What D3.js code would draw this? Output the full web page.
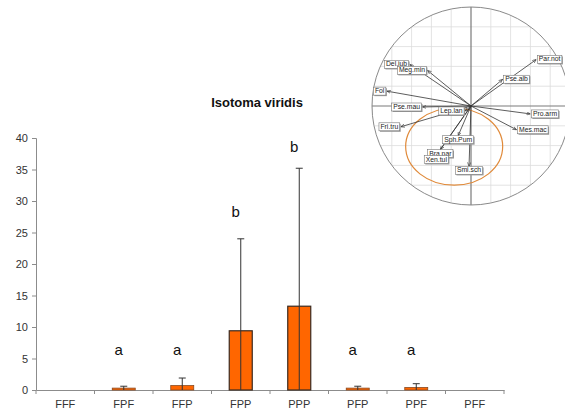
<!DOCTYPE html>
<html>
<head>
<meta charset="utf-8">
<script src="https://cdn.jsdelivr.net/npm/d3@7"></script>
<style>
  body { margin: 0; background: #fff; }
  svg { display: block; font-family: "Liberation Sans", Arial, sans-serif; }
</style>
</head>
<body>
<div id="chart"></div>
<script>
// bar chart data
var categories = ["FFF", "FPF", "FFP", "FPP", "PPP", "PFP", "PPF", "PFF"];
var means = [0, 0.3, 0.7, 9.4, 13.3, 0.3, 0.4, 0];
var errors = [0, 0.3, 1.2, 14.6, 21.9, 0.3, 0.6, 0];
var letters = ["", "a", "a", "b", "b", "a", "a", ""];
var letterLevel = [0, 6.3, 6.3, 28.2, 38.5, 6.3, 6.3, 0];
var yTicks = [0, 5, 10, 15, 20, 25, 30, 35, 40];

// correlation circle data (loadings on axis 1 / axis 2)
var species = ["Del.jub", "Meg.min", "Fol", "Pse.mau", "Lep.lan", "Fri.tru", "Sph.Pum",
               "Bra.par", "Xen.tul", "Smi.sch", "Par.not", "Pse.alb", "Pro.arm", "Mes.mac"];
var axis1 = [-0.62, -0.44, -0.85, -0.49, -0.06, -0.71, -0.13, -0.31, -0.35, -0.02, 0.66, 0.32, 0.60, 0.46];
var axis2 = [0.42, 0.36, 0.15, -0.01, -0.05, -0.21, -0.30, -0.44, -0.50, -0.61, 0.47, 0.27, -0.08, -0.24];
var groupEllipse = { cx: -0.17, cy: -0.41, rx: 0.49, ry: 0.39 };

var width = 565, height = 417;

var svg = d3.select("#chart").append("svg")
    .attr("width", width)
    .attr("height", height);

// ---------- bar chart ----------
var x = d3.scaleBand().domain(categories).range([36, 504]).paddingInner(0).paddingOuter(0);
var y = d3.scaleLinear().domain([0, 40]).range([390, 138]);
var barW = 23;

var xAxis = svg.append("g")
    .attr("transform", "translate(0,390)")
    .call(d3.axisBottom(x).tickSize(0).tickPadding(10));
xAxis.select(".domain").attr("stroke", "#8c8c8c");
xAxis.selectAll("text").attr("font-size", "11px").attr("fill", "#333");

// tick marks between categories
var bounds = categories.map(function(c) { return x(c); }).concat([x.range()[1]]);
svg.append("g").selectAll("line")
    .data(bounds)
    .join("line")
    .attr("x1", function(d) { return d; })
    .attr("x2", function(d) { return d; })
    .attr("y1", 390)
    .attr("y2", 394)
    .attr("stroke", "#8c8c8c");

var yAxis = svg.append("g")
    .attr("transform", "translate(36,0)")
    .call(d3.axisLeft(y).tickValues(yTicks).tickSize(4).tickPadding(4));
yAxis.select(".domain").attr("stroke", "#8c8c8c");
yAxis.selectAll(".tick line").attr("stroke", "#8c8c8c");
yAxis.selectAll("text").attr("font-size", "11px").attr("fill", "#333");

var rows = categories.map(function(c, i) {
    return { cat: c, mean: means[i], err: errors[i], letter: letters[i], level: letterLevel[i] };
});

svg.append("g").selectAll("rect")
    .data(rows.filter(function(d) { return d.mean > 0; }))
    .join("rect")
    .attr("x", function(d) { return x(d.cat) + x.bandwidth() / 2 - barW / 2; })
    .attr("y", function(d) { return y(d.mean); })
    .attr("width", barW)
    .attr("height", function(d) { return y(0) - y(d.mean); })
    .attr("fill", "#ff6600")
    .attr("stroke", function(d) { return d.mean > 2 ? "#3a2a20" : "#8a4a20"; })
    .attr("stroke-width", function(d) { return d.mean > 2 ? 1.2 : 0.8; });

var errG = svg.append("g").attr("stroke", "#333").attr("stroke-width", 1);
rows.filter(function(d) { return d.err > 0; }).forEach(function(d) {
    var cx = x(d.cat) + x.bandwidth() / 2;
    errG.append("line")
        .attr("x1", cx).attr("x2", cx)
        .attr("y1", y(Math.max(0, d.mean - d.err)))
        .attr("y2", y(d.mean + d.err));
    errG.append("line")
        .attr("x1", cx - 3.5).attr("x2", cx + 3.5)
        .attr("y1", y(d.mean + d.err))
        .attr("y2", y(d.mean + d.err));
});

svg.append("g").selectAll("text")
    .data(rows.filter(function(d) { return d.letter; }))
    .join("text")
    .attr("x", function(d) { return x(d.cat) + x.bandwidth() / 2 - 5; })
    .attr("y", function(d) { return y(d.level) + 5; })
    .attr("text-anchor", "middle")
    .attr("font-size", "15px")
    .attr("fill", "#111")
    .text(function(d) { return d.letter; });

svg.append("text")
    .attr("x", 257)
    .attr("y", 107)
    .attr("text-anchor", "middle")
    .attr("font-size", "13px")
    .attr("font-weight", "bold")
    .attr("fill", "#111")
    .text("Isotoma viridis");

// ---------- correlation circle inset ----------
var cc = { x: 471, y: 106, r: 99 };
var px = d3.scaleLinear().domain([-1, 1]).range([cc.x - cc.r, cc.x + cc.r]);
var py = d3.scaleLinear().domain([-1, 1]).range([cc.y + cc.r, cc.y - cc.r]);

var defs = svg.append("defs");
defs.append("clipPath").attr("id", "circClip")
    .append("circle").attr("cx", cc.x).attr("cy", cc.y).attr("r", cc.r);
defs.append("marker")
    .attr("id", "arr")
    .attr("viewBox", "0 0 10 10")
    .attr("refX", 10).attr("refY", 5)
    .attr("markerWidth", 5).attr("markerHeight", 5)
    .attr("orient", "auto")
    .append("path").attr("d", "M0,1L10,5L0,9").attr("fill", "none").attr("stroke", "#333").attr("stroke-width", 1.5);

var inset = svg.append("g");
inset.append("circle").attr("cx", cc.x).attr("cy", cc.y).attr("r", cc.r).attr("fill", "#fff");

var gridVals = d3.range(-1, 1.01, 0.2).filter(function(v) { return Math.abs(v) > 0.01; });
var grid = inset.append("g").attr("clip-path", "url(#circClip)").attr("stroke", "#dcdcdc").attr("stroke-width", 0.8);
grid.selectAll("line.v").data(gridVals).join("line").attr("class", "v")
    .attr("x1", function(d) { return px(d); }).attr("x2", function(d) { return px(d); })
    .attr("y1", cc.y - cc.r).attr("y2", cc.y + cc.r);
grid.selectAll("line.h").data(gridVals).join("line").attr("class", "h")
    .attr("y1", function(d) { return py(d); }).attr("y2", function(d) { return py(d); })
    .attr("x1", cc.x - cc.r).attr("x2", cc.x + cc.r);

inset.append("line").attr("x1", px(-1)).attr("x2", px(1)).attr("y1", py(0)).attr("y2", py(0))
    .attr("stroke", "#7a7a7a").attr("stroke-width", 1.2);
inset.append("line").attr("x1", px(0)).attr("x2", px(0)).attr("y1", py(1)).attr("y2", py(-1))
    .attr("stroke", "#7a7a7a").attr("stroke-width", 1.2);
inset.append("circle").attr("cx", cc.x).attr("cy", cc.y).attr("r", cc.r)
    .attr("fill", "none").attr("stroke", "#8a8a8a").attr("stroke-width", 1);

inset.append("ellipse")
    .attr("cx", px(groupEllipse.cx)).attr("cy", py(groupEllipse.cy))
    .attr("rx", px(groupEllipse.rx) - px(0)).attr("ry", py(0) - py(groupEllipse.ry))
    .attr("fill", "none").attr("stroke", "#e08a3a").attr("stroke-width", 1.2);

var loads = species.map(function(s, i) { return { name: s, a: axis1[i], b: axis2[i] }; });

inset.append("g").selectAll("line")
    .data(loads)
    .join("line")
    .attr("x1", px(0)).attr("y1", py(0))
    .attr("x2", function(d) { return px(d.a); })
    .attr("y2", function(d) { return py(d.b); })
    .attr("stroke", "#333")
    .attr("stroke-width", 0.8)
    .attr("marker-end", "url(#arr)");

var labG = inset.append("g");
loads.forEach(function(d) {
    var tx = px(d.a), ty = py(d.b);
    var t = labG.append("text")
        .attr("font-size", "6.8px")
        .attr("fill", "#222")
        .text(d.name);
    var w = t.node().getComputedTextLength() + 3, h = 8;
    var bx, by;
    if (Math.abs(d.a) >= Math.abs(d.b)) {
        bx = d.a < 0 ? tx - w - 1 : tx + 1;
        by = ty - h / 2;
    } else {
        bx = tx - w / 2;
        by = ty;
    }
    labG.insert("rect", function() { return t.node(); })
        .attr("x", bx + 1).attr("y", by + 1).attr("width", w).attr("height", h)
        .attr("fill", "#9a9a9a");
    labG.insert("rect", function() { return t.node(); })
        .attr("x", bx).attr("y", by).attr("width", w).attr("height", h)
        .attr("fill", "#fff").attr("stroke", "#777").attr("stroke-width", 0.6);
    t.attr("x", bx + 1.5).attr("y", by + h - 2);
});
</script>
</body>
</html>
